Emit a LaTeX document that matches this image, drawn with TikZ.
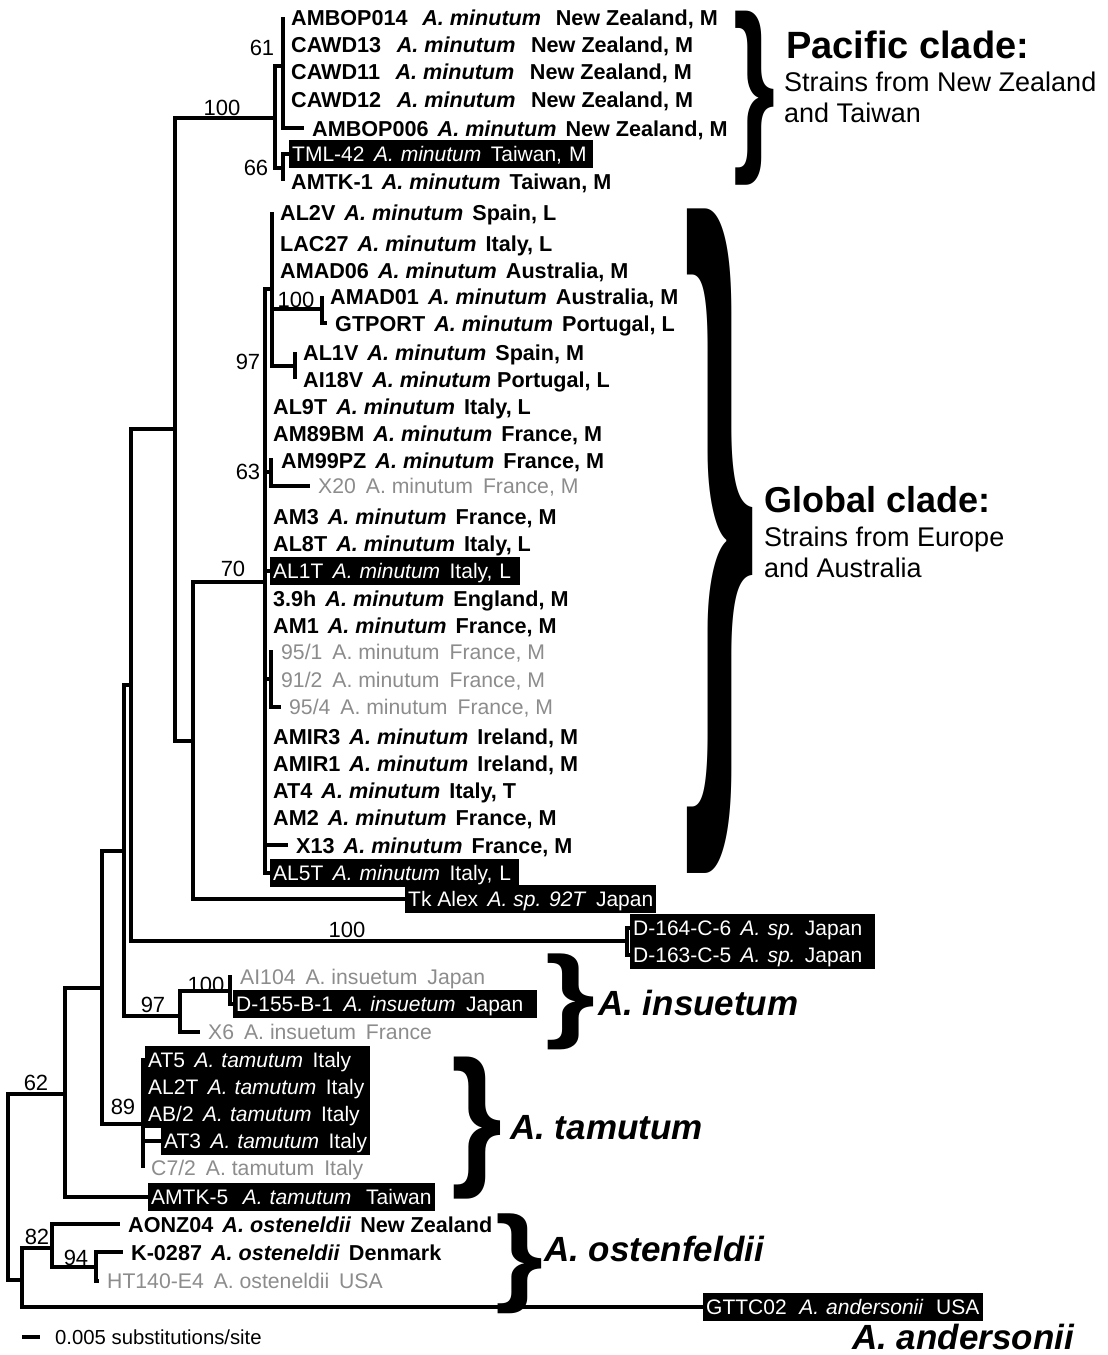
\documentclass[tikz,border=0pt]{standalone}
\usepackage{fontspec}
\setmainfont{Liberation Sans}
\usetikzlibrary{positioning}
\newcommand{\strn}[4][0.42em]{#2\hspace{#1}\textit{#3}\hspace{#1}#4}
\newcommand{\plainstrn}[3]{#1\hspace{0.47em}#2\hspace{0.47em}#3}
\newcommand{\curly}[2]{\resizebox*{#1}{#2}{\bfseries\}}}

\begin{document}
\begin{tikzpicture}[
  x=1pt, y=-1pt,
  br/.style={line width=3.1pt},
  strain/.style={anchor=west, inner xsep=8pt, inner ysep=0pt, text height=17pt,
                 text depth=1pt, font=\fontsize{21.6}{26}\selectfont\bfseries},
  faint/.style={anchor=west, inner xsep=8pt, inner ysep=0pt, text height=16pt,
                text depth=1pt, text=black!45, font=\fontsize{21.2}{24}\selectfont},
  hl/.style={anchor=west, fill=black, text=white, inner xsep=3pt, inner ysep=0pt,
             text height=18pt, text depth=4pt, minimum height=27.4pt, align=left,
             font=\fontsize{21}{24}\selectfont},
  boot/.style={inner sep=0pt, font=\fontsize{22}{24}\selectfont},
  clade/.style={anchor=west, inner sep=0pt,
                font=\fontsize{35}{40}\selectfont\bfseries\itshape},
  brace/.style={inner sep=2pt},
]
\useasboundingbox (0,0) rectangle (1108,1355);

% internal nodes of the tree
\coordinate (nroot) at (8,1188);
\coordinate (nost)  at (22,1280);
\coordinate (n82)   at (52,1248);
\coordinate (n94)   at (96,1267);
\coordinate (n62)   at (65,1094);
\coordinate (na)    at (102,988);
\coordinate (n89)   at (143,1124);
\coordinate (nb)    at (124,851);
\coordinate (n97i)  at (180,1016);
\coordinate (n100i) at (230,991);
\coordinate (n131)  at (131,685);
\coordinate (nd)    at (627,941);
\coordinate (ntop)  at (175,429);
\coordinate (npac)  at (275,118);
\coordinate (n61)   at (283,66);
\coordinate (n66)   at (283,168);
\coordinate (ng)    at (193,741);
\coordinate (n70)   at (265,582);
\coordinate (n97)   at (272,289);
\coordinate (n100g) at (322,309);
\coordinate (nal1v) at (295,366);
\coordinate (n63)   at (271,472);
\coordinate (n95)   at (271,679);

% Pacific clade
\node[strain] (ambop14) at (283,17)  {\strn[0.68em]{AMBOP014}{A. minutum}{New Zealand, M}};
\node[strain] (cawd13)  at (283,44)  {\strn[0.72em]{CAWD13}{A. minutum}{New Zealand, M}};
\node[strain] (cawd11)  at (283,71)  {\strn[0.72em]{CAWD11}{A. minutum}{New Zealand, M}};
\node[strain] (cawd12)  at (283,99)  {\strn[0.72em]{CAWD12}{A. minutum}{New Zealand, M}};
\node[strain] (ambop06) at (304,128) {\strn{AMBOP006}{A. minutum}{New Zealand, M}};
\node[hl, text width=298pt] (tml42) at (289,154) {\strn[0.45em]{TML-42}{A. minutum}{Taiwan, M}};
\node[strain] (amtk1)   at (283,181) {\strn{AMTK-1}{A. minutum}{Taiwan, M}};

% Global clade
\node[strain] (al2v)   at (272,212) {\strn{AL2V}{A. minutum}{Spain, L}};
\node[strain] (lac27)  at (272,243) {\strn{LAC27}{A. minutum}{Italy, L}};
\node[strain] (amad06) at (272,270) {\strn{AMAD06}{A. minutum}{Australia, M}};
\node[strain] (amad01) at (322,296) {\strn{AMAD01}{A. minutum}{Australia, M}};
\node[strain] (gtport) at (327,323) {\strn{GTPORT}{A. minutum}{Portugal, L}};
\node[strain] (al1v)   at (295,352) {\strn{AL1V}{A. minutum}{Spain, M}};
\node[strain] (ai18v)  at (295,379) {AI18V\hspace{0.42em}\textit{A. minutum} Portugal, L};
\node[strain] (al9t)   at (265,406) {\strn{AL9T}{A. minutum}{Italy, L}};
\node[strain] (am89bm) at (265,433) {\strn{AM89BM}{A. minutum}{France, M}};
\node[strain] (am99pz) at (273,460) {\strn{AM99PZ}{A. minutum}{France, M}};
\node[faint]  (x20)    at (310,486) {\plainstrn{X20}{A. minutum}{France, M}};
\node[strain] (am3)    at (265,516) {\strn{AM3}{A. minutum}{France, M}};
\node[strain] (al8t)   at (265,543) {\strn{AL8T}{A. minutum}{Italy, L}};
\node[hl, text width=244pt] (al1t) at (270,571) {\strn[0.45em]{AL1T}{A. minutum}{Italy, L}};
\node[strain] (h39)    at (265,598) {\strn{3.9h}{A. minutum}{England, M}};
\node[strain] (am1)    at (265,625) {\strn{AM1}{A. minutum}{France, M}};
\node[faint]  (s951)   at (273,652) {\plainstrn{95/1}{A. minutum}{France, M}};
\node[faint]  (s912)   at (273,680) {\plainstrn{91/2}{A. minutum}{France, M}};
\node[faint]  (s954)   at (281,707) {\plainstrn{95/4}{A. minutum}{France, M}};
\node[strain] (amir3)  at (265,736) {\strn{AMIR3}{A. minutum}{Ireland, M}};
\node[strain] (amir1)  at (265,763) {\strn{AMIR1}{A. minutum}{Ireland, M}};
\node[strain] (at4)    at (265,790) {\strn{AT4}{A. minutum}{Italy, T}};
\node[strain] (am2)    at (265,817) {\strn{AM2}{A. minutum}{France, M}};
\node[strain] (x13)    at (288,845) {\strn{X13}{A. minutum}{France, M}};
\node[hl, text width=243pt] (al5t) at (270,873) {\strn[0.45em]{AL5T}{A. minutum}{Italy, L}};
\node[hl] (tkalex) at (405,899) {\strn[0.45em]{Tk Alex}{A. sp. 92T}{Japan}};

% the rest
\node[hl, text width=239pt] (d164) at (630,928) {\strn[0.45em]{D-164-C-6}{A. sp.}{Japan}};
\node[hl, text width=239pt] (d163) at (630,955) {\strn[0.45em]{D-163-C-5}{A. sp.}{Japan}};
\node[faint]  (ai104)  at (232,977)  {\plainstrn{AI104}{A. insuetum}{Japan}};
\node[hl, text width=298pt] (d155) at (233,1004) {\strn[0.5em]{D-155-B-1}{A. insuetum}{Japan}};
\node[faint]  (x6)     at (200,1032) {\plainstrn{X6}{A. insuetum}{France}};
\node[hl, text width=219pt] (at5)  at (145,1060) {\strn[0.45em]{AT5}{A. tamutum}{Italy}};
\node[hl, text width=219pt] (al2t) at (145,1087) {\strn[0.45em]{AL2T}{A. tamutum}{Italy}};
\node[hl, text width=219pt] (ab2)  at (145,1114) {\strn[0.45em]{AB/2}{A. tamutum}{Italy}};
\node[hl, text width=203pt] (at3)  at (161,1141) {\strn[0.45em]{AT3}{A. tamutum}{Italy}};
\node[faint]  (c72)    at (143,1168) {\plainstrn{C7/2}{A. tamutum}{Italy}};
\node[hl, text width=281pt] (amtk5) at (148,1197) {\strn[0.7em]{AMTK-5}{A. tamutum}{Taiwan}};
\node[strain] (aonz04) at (120,1224) {\strn{AONZ04}{A. osteneldii}{New Zealand}};
\node[strain] (k0287)  at (123,1252) {\strn{K-0287}{A. osteneldii}{Denmark}};
\node[faint]  (ht140)  at (99,1281)  {\plainstrn{HT140-E4}{A. osteneldii}{USA}};
\node[hl, text width=274pt] (gttc02) at (703,1307) {\strn[0.6em]{GTTC02}{A. andersonii}{USA}};

% branches
\foreach \p/\c in {nroot/n62, nroot/nost, nost/n82, n82/n94, n62/na, na/nb,
    na/n89, nb/n131, nb/n97i, n97i/n100i, n131/ntop, n131/nd, ntop/npac,
    ntop/ng, npac/n61, npac/n66, ng/n70, n70/n97, n70/n63, n70/n95,
    n97/n100g, n97/nal1v}
  \draw[br] (\p) |- (\c);
\foreach \p/\cs in {n61/{ambop14,cawd13,cawd11,cawd12,ambop06}, n66/{tml42,amtk1},
    n97/{al2v,lac27,amad06}, n100g/{amad01,gtport}, nal1v/{al1v,ai18v},
    n70/{al9t,am89bm,am3,al8t,al1t,h39,am1,amir3,amir1,at4,am2,x13,al5t},
    n63/{am99pz,x20}, n95/{s951,s912,s954}, ng/{tkalex}, nd/{d164,d163},
    n100i/{ai104,d155}, n97i/{x6}, n89/{at5,al2t,ab2,at3,c72}, n62/{amtk5},
    n82/{aonz04}, n94/{k0287,ht140}, nost/{gttc02}}
  \foreach \c in \cs
    \draw[br] (\p) |- (\c.west);

% bootstrap values
\node[boot] (b100p) at (222,108)  {100};
\node[boot] (b61)   at (262,48)   {61};
\node[boot] (b66)   at (256,168)  {66};
\node[boot] (b100g) at (296,300)  {100};
\node[boot] (b97)   at (248,362)  {97};
\node[boot] (b63)   at (248,472)  {63};
\node[boot] (b70)   at (233,569)  {70};
\node[boot] (b100d) at (347,930)  {100};
\node[boot] (b100i) at (206,985)  {100};
\node[boot] (b97i)  at (153,1005) {97};
\node[boot] (b89)   at (123,1107) {89};
\node[boot] (b62)   at (36,1083)  {62};
\node[boot] (b82)   at (37,1237)  {82};
\node[boot] (b94)   at (76,1258)  {94};

% clade braces and names
\node[brace] (bpac) at (754,98)   {\curly{42pt}{174pt}};
\node[brace] (bglo) at (720,541)  {\curly{72pt}{664pt}};
\node[brace] (bins) at (570,1002) {\curly{50pt}{96pt}};
\node[brace] (btam) at (477,1128) {\curly{51pt}{142pt}};
\node[brace] (bost) at (520,1264) {\curly{48pt}{100pt}};

\node[anchor=west, inner sep=0pt, font=\fontsize{38}{40}\selectfont\bfseries]
  (pachead) at (786,45) {Pacific clade:};
\node[anchor=west, inner sep=0pt, align=left, font=\fontsize{27}{31}\selectfont]
  (pacsub) at (784,97) {Strains from New Zealand\\and Taiwan};
\node[anchor=west, inner sep=0pt, font=\fontsize{36}{40}\selectfont\bfseries]
  (glohead) at (764,500) {Global clade:};
\node[anchor=west, inner sep=0pt, align=left, font=\fontsize{27}{31}\selectfont]
  (glosub) at (764,552) {Strains from Europe\\and Australia};

\node[clade] (insl) at (598,1003) {A. insuetum};
\node[clade] (taml) at (510,1128) {A. tamutum};
\node[clade] (ostl) at (544,1249) {A. ostenfeldii};
\node[clade] (andl) at (852,1337) {A. andersonii};

% scale bar
\coordinate (sb0) at (22,1337);
\coordinate (sb1) at (40,1337);
\draw[br] (sb0) -- (sb1);
\node[anchor=west, inner sep=0pt, font=\fontsize{20.3}{22}\selectfont]
  (sbl) at (55,1337) {0.005 substitutions/site};
\end{tikzpicture}
\end{document}
